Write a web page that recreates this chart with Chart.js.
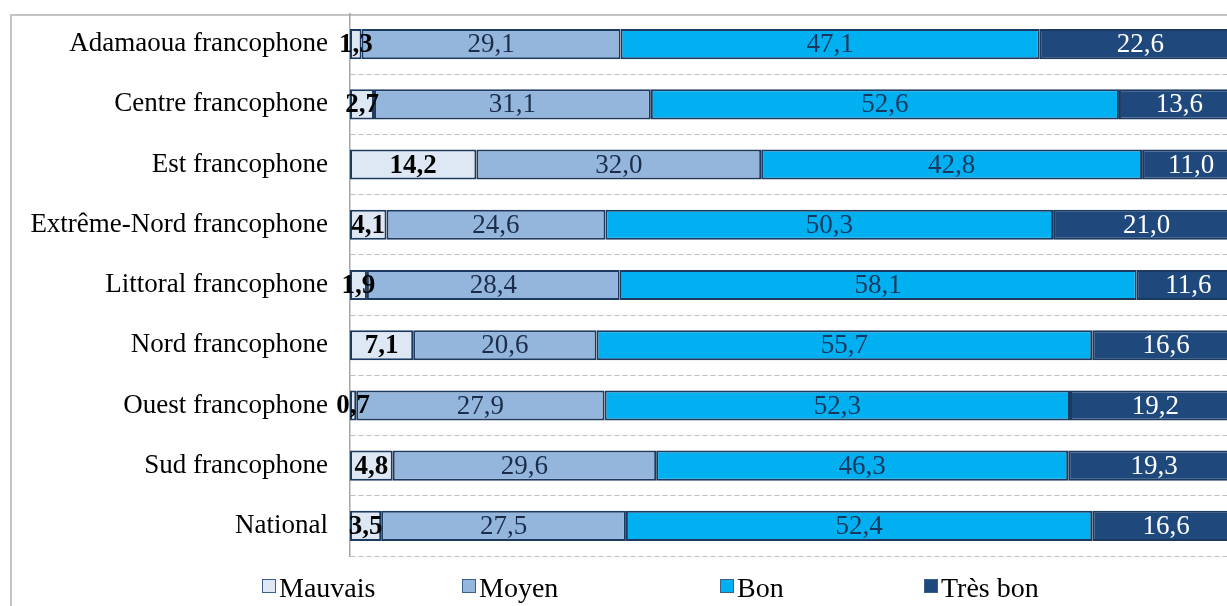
<!DOCTYPE html>
<html>
<head>
<meta charset="utf-8">
<script src="https://cdn.jsdelivr.net/npm/chart.js@4"></script>
<style>
  body { margin: 0; overflow: hidden; background: #fff; width: 1227px; height: 606px; position: relative; }
  #frame { position: absolute; left: 10px; top: 14px; width: 1400px; height: 800px; border: 2px solid #c4c4c4; }
  #wrap { position: absolute; left: 0; top: 0; width: 1245px; height: 606px; }
</style>
</head>
<body>
<div id="frame"></div>
<div id="wrap"><canvas id="chart" width="1245" height="606"></canvas></div>
<script>
// regions (top to bottom)
const regions = [
  "Adamaoua francophone", "Centre francophone", "Est francophone",
  "Extrême-Nord francophone", "Littoral francophone", "Nord francophone",
  "Ouest francophone", "Sud francophone", "National"
];

// percentages per category of appreciation
const mauvais = [1.3, 2.7, 14.2, 4.1, 1.9, 7.1, 0.7, 4.8, 3.5];
const moyen   = [29.1, 31.1, 32.0, 24.6, 28.4, 20.6, 27.9, 29.6, 27.5];
const bon     = [47.1, 52.6, 42.8, 50.3, 58.1, 55.7, 52.3, 46.3, 52.4];
const tresBon = [22.6, 13.6, 11.0, 21.0, 11.6, 16.6, 19.2, 19.3, 16.6];

const seriesNames = ["Mauvais", "Moyen", "Bon", "Très bon"];

const serif = "'Liberation Serif', 'Times New Roman', serif";
const fills = ["#dde8f4", "#95b6dc", "#00b0f0", "#1f497d"];
const labelColors = ["#000000", "#1b2d4a", "#17375e", "#ffffff"];
const legendX = [262, 462, 720, 924];

// values written inside each segment
const segmentLabels = {
  id: "segmentLabels",
  afterDatasetsDraw(chart) {
    const ctx = chart.ctx;
    ctx.save();
    ctx.textAlign = "center";
    ctx.textBaseline = "middle";
    chart.data.datasets.forEach((ds, di) => {
      const meta = chart.getDatasetMeta(di);
      ctx.font = (di === 0 ? "bold " : "") + "27px " + serif;
      ctx.fillStyle = labelColors[di];
      meta.data.forEach((bar, i) => {
        const cx = (bar.x + bar.base) / 2;
        ctx.fillText(ds.data[i].toFixed(1).replace(".", ","), cx, bar.y + 1);
      });
    });
    ctx.restore();
  }
};

// legend laid out like the spreadsheet one
const bottomLegend = {
  id: "bottomLegend",
  afterDraw(chart) {
    const ctx = chart.ctx;
    ctx.save();
    ctx.font = "28px " + serif;
    ctx.textBaseline = "middle";
    ctx.textAlign = "left";
    chart.data.datasets.forEach((ds, di) => {
      const x = legendX[di];
      ctx.fillStyle = ds.backgroundColor;
      ctx.fillRect(x, 579, 14, 14);
      ctx.strokeStyle = "#3d5f8a";
      ctx.lineWidth = 1;
      ctx.strokeRect(x + 0.5, 579.5, 13, 13);
      ctx.fillStyle = "#000";
      ctx.fillText(ds.label, x + 17, 590);
    });
    ctx.restore();
  }
};

new Chart(document.getElementById("chart"), {
  type: "bar",
  data: {
    labels: regions,
    datasets: [mauvais, moyen, bon, tresBon].map((vals, i) => ({
      label: seriesNames[i],
      data: vals,
      backgroundColor: fills[i],
      borderColor: "#1c3a60",
      borderWidth: 2,
      borderSkipped: false,
      barPercentage: 0.5,
      categoryPercentage: 1
    }))
  },
  options: {
    indexAxis: "y",
    responsive: false,
    animation: false,
    layout: { padding: { top: 14, right: 5, bottom: 50, left: 0 } },
    plugins: { legend: { display: false }, tooltip: { enabled: false } },
    scales: {
      x: {
        stacked: true,
        min: 0,
        max: 100,
        display: false
      },
      y: {
        stacked: true,
        afterFit(scale) {
          scale.width = 350;
          scale.paddingTop = 0;
          scale.paddingBottom = 0;
        },
        grid: { color: "#bfbfbf", lineWidth: 1, drawTicks: false, offset: true },
        border: { display: true, color: "#a6a6a6", width: 1.5, dash: [5, 3] },
        ticks: { color: "#000", padding: 22, font: { family: serif, size: 27 } }
      }
    }
  },
  plugins: [segmentLabels, bottomLegend]
});
</script>
</body>
</html>
